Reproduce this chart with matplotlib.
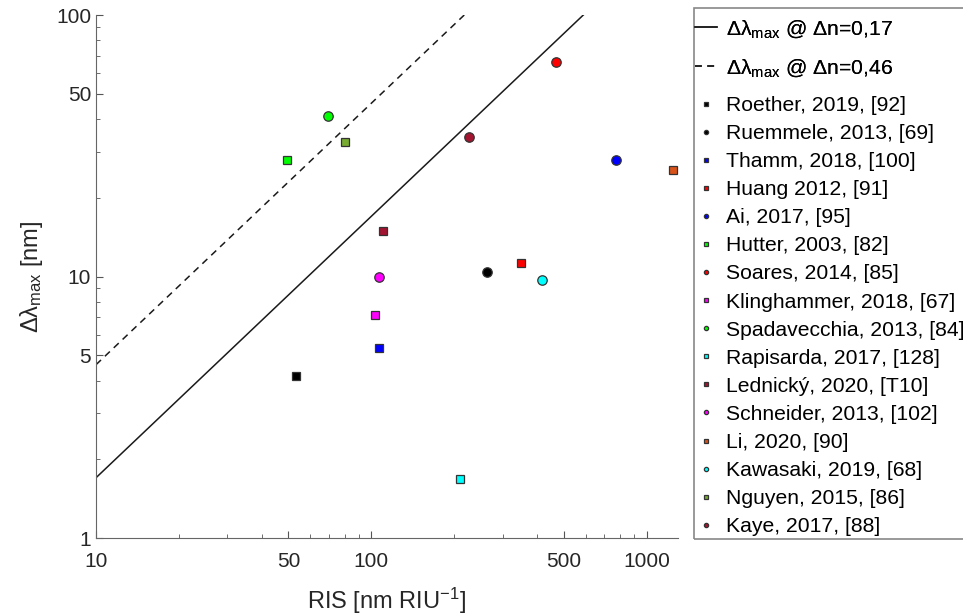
import matplotlib
matplotlib.use('Agg')
import matplotlib.pyplot as plt
from matplotlib.patches import Rectangle
import numpy as np

plt.rcParams['font.family'] = ['Liberation Sans', 'DejaVu Sans']
plt.rcParams['mathtext.fontset'] = 'custom'
plt.rcParams['mathtext.rm'] = 'Liberation Sans'
plt.rcParams['mathtext.it'] = 'Liberation Sans:italic'

# Reference lines: delta lambda = delta n * RIS
line_dn = [0.17, 0.46]
line_styles = ['-', '--']
line_labels = ['Δλ$_\\mathregular{max}$ @ Δn=0,17',
               'Δλ$_\\mathregular{max}$ @ Δn=0,46']

# Literature data
names = ['Roether, 2019, [92]', 'Ruemmele, 2013, [69]', 'Thamm, 2018, [100]',
         'Huang 2012, [91]', 'Ai, 2017, [95]', 'Hutter, 2003, [82]',
         'Soares, 2014, [85]', 'Klinghammer, 2018, [67]',
         'Spadavecchia, 2013, [84]', 'Rapisarda, 2017, [128]',
         'Lednický, 2020, [T10]', 'Schneider, 2013, [102]', 'Li, 2020, [90]',
         'Kawasaki, 2019, [68]', 'Nguyen, 2015, [86]', 'Kaye, 2017, [88]']
ris = [53.2, 262, 107, 349, 771, 49.3, 468, 103, 69.5, 209, 110, 107, 1242,
       416, 80.2, 226]
dlam = [4.17, 10.4, 5.33, 11.3, 27.8, 27.8, 66.1, 7.13, 41.1, 1.68, 14.9,
        9.96, 25.5, 9.7, 32.7, 34.1]
markers = ['s', 'o', 's', 's', 'o', 's', 'o', 's', 'o', 's', 's', 'o', 's',
           'o', 's', 'o']
colors = ['#000000', '#000000', '#0000ff', '#ff0000', '#0000ff', '#00ff00',
          '#ff0000', '#ff00ff', '#00ff00', '#00ffff', '#a2142f', '#ff00ff',
          '#d95319', '#00ffff', '#77ac30', '#a2142f']

fig = plt.figure(figsize=(9.63, 6.15), dpi=100)
ax = fig.add_axes([0.0997, 0.1252, 0.6045, 0.8504])

line_handles = []
for dn, ls, lab in zip(line_dn, line_styles, line_labels):
    x = np.array([10, 100 / dn])
    h, = ax.plot(x, dn * x, linestyle=ls, color='#1a1a1a', linewidth=1.1,
                 label=lab)
    if ls == '--':
        h.set_dashes((4.5, 3.5))
    line_handles.append(h)

point_handles = []
for n, xv, yv, m, c in zip(names, ris, dlam, markers, colors):
    h, = ax.plot(xv, yv, linestyle='none', marker=m, color=c,
                 markersize=6.8 if m == 'o' else 6.0,
                 markeredgecolor='#333333', markeredgewidth=0.9, label=n)
    point_handles.append(h)

ax.set_xscale('log')
ax.set_yscale('log')
ax.set_xlim(10, 1300)
ax.set_ylim(1, 100)
ax.set_xticks([10, 50, 100, 500, 1000])
ax.set_xticklabels(['10', '50', '100', '500', '1000'])
ax.set_yticks([1, 5, 10, 50, 100])
ax.set_yticklabels(['1', '5', '10', '50', '100'])
ax.tick_params(which='both', direction='in', color='#555555',
               labelcolor='#262626', labelsize=15)
ax.tick_params(which='major', length=5)
ax.tick_params(which='minor', length=3)
ax.tick_params(axis='x', which='both', pad=10)
for s in ['top', 'right']:
    ax.spines[s].set_visible(False)
for s in ['left', 'bottom']:
    ax.spines[s].set_color('#666666')

ax.set_xlabel('RIS [nm RIU$^\\mathregular{-1}$]', fontsize=17,
              color='#262626', labelpad=11)
ax.set_ylabel('Δλ$_\\mathregular{max}$ [nm]', fontsize=17, color='#262626',
              labelpad=8)

# legend: two stacked legends inside one drawn frame
leg_kw = dict(loc='upper left', fontsize=15.2, frameon=False,
              borderaxespad=0, borderpad=0, handlelength=1.05,
              handletextpad=0.4)
leg1 = fig.legend(handles=line_handles, bbox_to_anchor=(695 / 963, 1 - 18 / 615),
                  labelspacing=0.84, **leg_kw)
leg2 = fig.legend(handles=point_handles,
                  bbox_to_anchor=(695 / 963, 1 - 96 / 615),
                  labelspacing=0.43, markerscale=0.45, **leg_kw)
fig.add_artist(leg1)
fig.add_artist(Rectangle((694 / 963, 1 - 539 / 615), 0.4, 531 / 615,
                         transform=fig.transFigure, fill=False,
                         edgecolor='#888888', linewidth=1.2))

fig.savefig('out.png', dpi=100)
